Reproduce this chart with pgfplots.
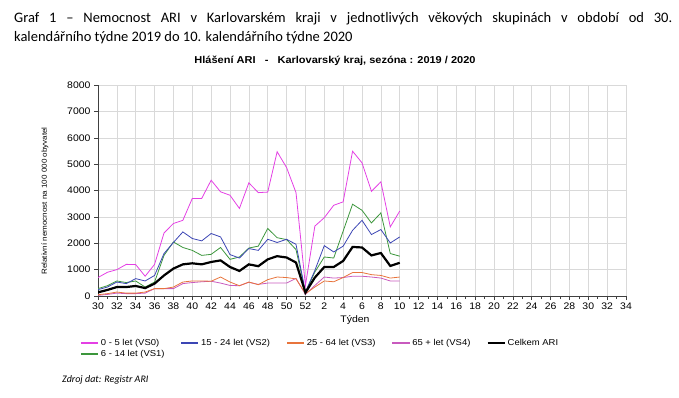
\documentclass[border=0pt]{standalone}
\usepackage{fontspec}
\setmainfont{Carlito}
\newfontfamily\arial[FakeStretch=1.1]{Liberation Sans}
\usepackage{pgfplots}
\pgfplotsset{compat=1.18}
\usepackage{pgfplotstable}

\definecolor{cA}{RGB}{228,64,228}
\definecolor{cB}{RGB}{60,150,60}
\definecolor{cC}{RGB}{60,70,180}
\definecolor{cD}{RGB}{232,116,60}
\definecolor{cE}{RGB}{200,90,190}

\pgfplotstableread{
idx vsA vsB vsC vsD vsE tot
0 700 280 240 50 25 140
1 900 390 340 90 60 230
2 1000 570 530 150 110 340
3 1200 510 470 110 90 340
4 1190 570 660 110 90 380
5 750 340 570 150 110 300
6 1200 530 780 280 280 470
7 2390 1540 1610 280 280 780
8 2750 2050 2030 340 280 1040
9 2870 1840 2430 530 470 1200
10 3700 1730 2180 570 510 1240
11 3700 1540 2090 570 540 1200
12 4390 1580 2370 560 560 1290
13 3950 1840 2240 720 490 1350
14 3820 1390 1570 530 400 1100
15 3320 1480 1440 390 390 950
16 4290 1820 1800 530 520 1200
17 3920 1890 1730 430 440 1130
18 3940 2560 2150 620 490 1390
19 5470 2210 2030 720 490 1510
20 4870 2140 2150 700 490 1460
21 3920 1760 1960 650 670 1270
22 400 150 150 90 60 130
23 2650 910 970 340 400 700
24 2970 1480 1910 570 720 1100
25 3440 1440 1670 540 680 1100
26 3570 2460 1890 700 700 1330
27 5490 3480 2490 890 750 1860
28 5050 3250 2870 890 750 1840
29 3970 2770 2330 810 720 1540
30 4330 3150 2520 780 680 1630
31 2620 1610 2010 680 570 1140
32 3220 1510 2240 720 570 1260
}\data

\begin{document}
\begin{tikzpicture}[x=1pt,y=1pt]
\useasboundingbox (0,0) rectangle (679,-397);
\node[anchor=base west, inner sep=0] at (14,-22) {\fontsize{14.5}{16}\selectfont\makebox[658pt][s]{Graf 1 – Nemocnost ARI v Karlovarském kraji v jednotlivých věkových skupinách v období od 30.}};
\node[anchor=base west, inner sep=0] at (14,-41) {\fontsize{14.5}{16}\selectfont kalendářního týdne 2019 do 10. kalendářního týdne 2020};
\node[anchor=base, inner sep=0] at (335,-63) {\arial\bfseries\fontsize{10}{12}\selectfont Hlášení ARI\ \ \ -\ \ \ Karlovarský kraj, sezóna : 2019 / 2020};
\node[rotate=90, inner sep=0, font=\arial\fontsize{7.3}{8}\selectfont] at (45,-201) {Relativní nemocnost na 100 000 obyvatel};
\node[inner sep=0, font=\arial\fontsize{9.5}{10}\selectfont] at (355,-320) {Týden};
\node[anchor=base west, inner sep=0] at (62,-382) {\fontsize{10}{12}\selectfont\itshape Zdroj dat: Registr ARI};
\begin{axis}[
  at={(98pt,-296pt)}, anchor=south west,
  scale only axis, width=528pt, height=211pt,
  xmin=0, xmax=56, ymin=0, ymax=8000,
  axis x line*=bottom, axis y line*=left,
  axis line style={black!75, line width=0.6pt},
  xtick={0,2,...,56},
  xticklabels={30,32,34,36,38,40,42,44,46,48,50,52,2,4,6,8,10,12,14,16,18,20,22,24,26,28,30,32,34},
  minor xtick={0,1,...,56},
  ytick={0,1000,...,8000},
  tick align=outside,
  major tick length=4pt, minor tick length=3pt,
  tick style={black!75, line width=0.5pt},
  xmajorgrids, ymajorgrids,
  grid style={black!15, line width=0.5pt},
  scaled y ticks=false,
  /pgf/number format/assume math mode=true,
  /pgf/number format/1000 sep={},
  ticklabel style={font=\arial\fontsize{9.5}{10}\selectfont},
  xticklabel style={yshift=1pt},
  legend style={at={(-0.034,-0.195)}, anchor=north west, draw=none, fill=none,
    font=\arial\fontsize{8.6}{9}\selectfont, inner sep=0pt,
    /tikz/every even column/.append style={column sep=14pt},
    row sep=-1pt},
  legend columns=5,
  legend cell align=left,
]
\addlegendimage{cA, line width=1.6pt}\addlegendentry{0 - 5 let (VS0)}
\addlegendimage{cC, line width=1.6pt}\addlegendentry{15 - 24 let (VS2)}
\addlegendimage{cD, line width=1.6pt}\addlegendentry{25 - 64 let (VS3)}
\addlegendimage{cE, line width=1.6pt}\addlegendentry{65 + let (VS4)}
\addlegendimage{black, line width=2.2pt}\addlegendentry{Celkem ARI}
\addlegendimage{cB, line width=1.6pt}\addlegendentry{6 - 14 let (VS1)}
\addplot[cE, line width=0.8pt, forget plot] table[x=idx, y=vsE] {\data};
\addplot[cD, line width=0.8pt, forget plot] table[x=idx, y=vsD] {\data};
\addplot[cB, line width=0.8pt, forget plot] table[x=idx, y=vsB] {\data};
\addplot[cC, line width=0.8pt, forget plot] table[x=idx, y=vsC] {\data};
\addplot[cA, line width=0.8pt, forget plot] table[x=idx, y=vsA] {\data};
\addplot[black, line width=2.2pt, forget plot] table[x=idx, y=tot] {\data};
\end{axis}
\end{tikzpicture}
\end{document}
